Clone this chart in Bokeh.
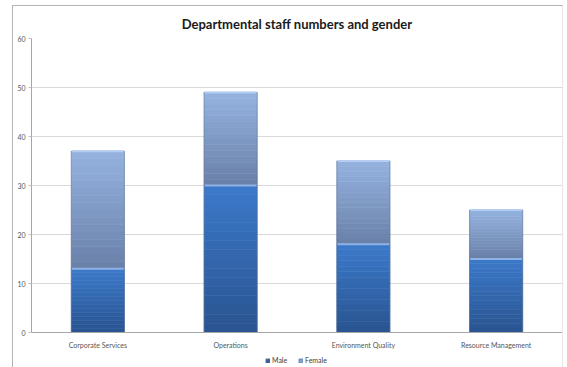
from bokeh.plotting import figure
from bokeh.layouts import column
from bokeh.models import ColumnDataSource, Legend, LegendItem, FixedTicker, Range1d, FactorRange, Title
from bokeh.embed import file_html
from bokeh.resources import INLINE

departments = ["Corporate Services", "Operations", "Environment Quality", "Resource Management"]
male = [13, 30, 18, 15]
female = [24, 19, 17, 10]
y_ticks = [0, 10, 20, 30, 40, 50, 60]
series = ["Male", "Female"]

FONT = "Lato"
BORDER = "1px solid #b3b3b3"
BORDER_R = "1px solid #e6e6e6"
p = figure(x_range=FactorRange(*departments, range_padding=0), y_range=Range1d(0, 60),
           width=551, height=346, margin=(5, 0, 0, 12),
           styles={"border-left": BORDER, "border-top": BORDER, "border-right": BORDER_R},
           output_backend="svg", toolbar_location=None,
           min_border_left=18, min_border_right=2, min_border_top=32, min_border_bottom=20)
p.title = Title(text="Departmental staff numbers and gender", align="center",
                text_font=FONT, text_font_size="13px", text_font_style="bold",
                text_color="#1a1a1a", standoff=13)
p.outline_line_color = None
p.background_fill_color = "white"
p.border_fill_color = "white"

def lerp(c1, c2, t):
    a = [int(c1[i:i+2], 16) for i in (1, 3, 5)]
    b = [int(c2[i:i+2], 16) for i in (1, 3, 5)]
    return "#%02x%02x%02x" % tuple(round(a[k] + (b[k] - a[k]) * t) for k in range(3))

N = 16
W = 0.4
def gradient_bars(bottoms, values, c_bot, c_top):
    for i in range(N):
        c = lerp(c_bot, c_top, i / (N - 1))
        src = ColumnDataSource(dict(
            x=departments,
            b=[bt + v * i / N for bt, v in zip(bottoms, values)],
            t=[bt + v * (i + 1) / N for bt, v in zip(bottoms, values)]))
        p.vbar(x="x", bottom="b", top="t", width=W, source=src,
               fill_color=c, line_color=c, line_width=0.6)

gradient_bars([0] * 4, male, "#2a5592", "#3b78c8")
gradient_bars(male, female, "#6a82aa", "#94b1de")

tot = [m + f for m, f in zip(male, female)]
src = ColumnDataSource(dict(x=departments, m=male, t=tot, z=[0] * 4))
p.vbar(x="x", bottom="z", top="t", width=W, source=src, fill_color=None,
       line_color="#5a6f90", line_width=0.8, line_alpha=0.6)
p.vbar(x="x", bottom="m", top="m", width=W - 0.01, source=src, fill_color=None,
       line_color="#8fb2e6", line_width=2)
p.vbar(x="x", bottom="t", top="t", width=W - 0.01, source=src, fill_color=None,
       line_color="#b4cdf0", line_width=2)

p.yaxis.ticker = FixedTicker(ticks=y_ticks)
p.ygrid.ticker = FixedTicker(ticks=y_ticks)
p.ygrid.grid_line_color = "#d9d9d9"
p.xgrid.grid_line_color = None
for ax in (p.xaxis, p.yaxis):
    ax.axis_line_color = "#a6a6a6"
    ax.major_tick_line_color = "#bfbfbf"
    ax.minor_tick_line_color = None
    ax.major_label_text_font = FONT
    ax.major_label_text_font_size = "7px"
    ax.major_label_text_color = "#555555"
p.yaxis.major_tick_out = 3
p.yaxis.major_tick_in = 0
p.yaxis.major_label_standoff = 3
p.xaxis.major_tick_line_color = None
p.xaxis.major_tick_out = 3
p.xaxis.major_tick_in = 0
p.xaxis.major_label_standoff = 5

# legend strip
q = figure(width=551, height=16, margin=(0, 0, 0, 12),
           styles={"border-left": BORDER, "border-right": BORDER_R},
           x_range=Range1d(0, 1), y_range=Range1d(0, 1),
           output_backend="svg", toolbar_location=None,
           min_border=0, min_border_left=0, min_border_right=0, min_border_top=0, min_border_bottom=0)
q.xaxis.visible = False
q.yaxis.visible = False
q.grid.visible = False
q.outline_line_color = None
q.border_fill_color = "white"
r_m = q.vbar(x=[0.5], top=[0.5], width=0.1, fill_color="#2f5f9f", line_color="#5a6f90", visible=False)
r_f = q.vbar(x=[0.5], top=[0.5], width=0.1, fill_color="#86a3d0", line_color="#7088b0", visible=False)
legend = Legend(items=[LegendItem(label=series[0], renderers=[r_m]),
                       LegendItem(label=series[1], renderers=[r_f])],
                orientation="horizontal", location=(234, 3),
                label_text_font=FONT, label_text_font_size="7px", label_text_color="#404040",
                label_height=8, glyph_width=5, glyph_height=5, spacing=6, label_standoff=2,
                padding=0, margin=0, border_line_color=None, background_fill_alpha=0)
q.add_layout(legend, "center")

layout = column(p, q, spacing=0)
open("out.html", "w").write(file_html(layout, INLINE))
